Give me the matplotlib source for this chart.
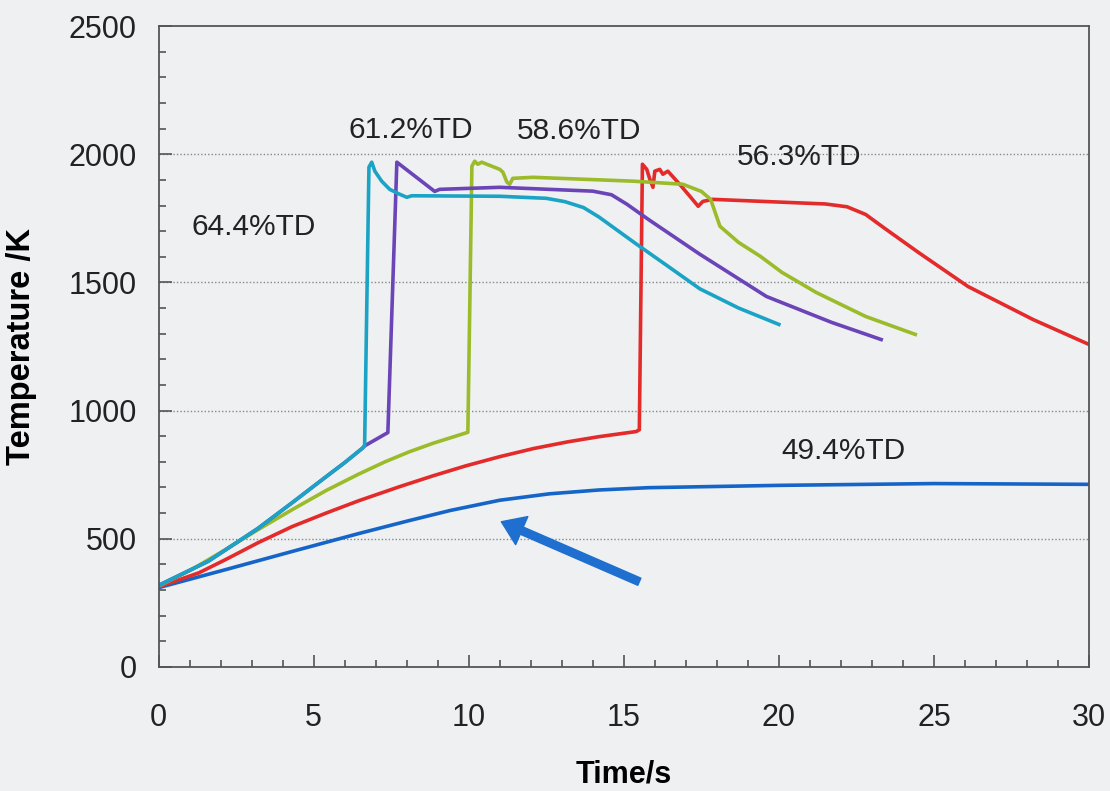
import matplotlib.pyplot as plt
from matplotlib.ticker import MultipleLocator

plt.rcParams["font.family"] = ["Liberation Sans", "DejaVu Sans"]

# data (time in s, temperature in K)
t_644 = [0, 1.6, 3.2, 4.3, 5.4, 6.0, 6.56, 6.64, 6.78, 6.87, 6.97, 7.19, 7.45, 7.77, 8.0, 8.16, 11.0, 12.5, 13.1,
         13.7, 14.2, 15.4, 16.4, 17.45, 18.7, 20.0]
T_644 = [318, 412, 540, 640, 742, 797, 852, 862, 1950, 1969, 1934, 1895, 1863, 1844, 1832, 1838, 1836, 1828, 1815,
         1792, 1755, 1650, 1565, 1475, 1400, 1336]

t_612 = [0, 1.6, 3.2, 4.3, 5.4, 6.0, 6.56, 6.64, 7.39, 7.68, 8.9, 9.06, 11.0, 14.0, 14.6, 15.1, 15.8, 17.45, 19.6,
         21.7, 23.3]
T_612 = [318, 412, 540, 640, 742, 797, 852, 862, 914, 1969, 1855, 1863, 1871, 1856, 1842, 1805, 1745, 1610, 1445,
         1344, 1277]

t_586 = [0, 1.07, 2.15, 3.2, 4.3, 5.4, 6.45, 7.3, 8.06, 8.84, 9.97, 10.1, 10.19, 10.29, 10.42, 10.58, 11.0, 11.1, 11.23,
         11.32, 11.42, 12.07, 15.3, 16.9, 17.5, 17.8, 18.1, 18.7, 19.4, 20.1, 21.2, 22.8, 24.4]
T_586 = [315, 380, 457, 535, 613, 688, 752, 800, 838, 872, 915, 1953, 1973, 1961, 1969, 1961, 1941, 1930, 1891,
         1883, 1906, 1910, 1895, 1883, 1855, 1824, 1719, 1656, 1602, 1539, 1461, 1367, 1297]

t_563 = [0, 1.3, 2.15, 3.2, 4.3, 5.4, 6.45, 7.77, 8.84, 9.9, 11.0, 12.1, 13.2, 14.2, 15.4, 15.5, 15.6, 15.74, 15.84,
         15.94, 16.0, 16.16, 16.26, 16.42, 16.8, 17.13, 17.4, 17.55, 17.87, 21.5, 22.2, 22.8, 23.4, 24.5, 26.1, 28.2, 30.0]
T_563 = [312, 367, 418, 484, 547, 600, 648, 703, 745, 784, 820, 852, 878, 898, 918, 925, 1961, 1941, 1902,
         1871, 1934, 1941, 1922, 1934, 1883, 1836, 1797, 1816, 1824, 1806, 1795, 1765, 1712, 1617, 1484, 1355, 1258]

t_494 = [0, 2.15, 4.3, 6.45, 8.06, 9.4, 11.0, 12.6, 14.2, 15.8, 20, 25, 30]
T_494 = [309, 379, 450, 520, 570, 610, 650, 675, 690, 699, 708, 715, 712]

labels = ["64.4%TD", "61.2%TD", "58.6%TD", "56.3%TD", "49.4%TD"]
label_x = [3.06, 8.13, 13.55, 20.65, 22.08]
label_y = [1715, 2094, 2090, 1988, 844]

bg = "#eef0f1"
fig = plt.figure(figsize=(11.1, 7.91), dpi=100, facecolor=bg)
ax = fig.add_axes([0.143, 0.157, 0.838, 0.810], facecolor=bg)

ax.plot(t_494, T_494, color="#1565c8", lw=2.6)
ax.plot(t_563, T_563, color="#e32b2b", lw=2.6)
ax.plot(t_586, T_586, color="#9bbb2a", lw=2.6)
ax.plot(t_612, T_612, color="#6b45b8", lw=2.6)
ax.plot(t_644, T_644, color="#1ba3c6", lw=2.6)

for lab, x, y in zip(labels, label_x, label_y):
    ax.text(x, y, lab, fontsize=21.5, ha="center", va="center", color="#222222")

# arrow pointing at the 49.4%TD curve
ax.annotate("", xy=(11.05, 566), xytext=(15.5, 332),
            arrowprops=dict(arrowstyle="simple,head_width=1.1,head_length=0.8,tail_width=0.28",
                            color="#1e6fd0", mutation_scale=20, shrinkA=0, shrinkB=0))

ax.set_xlim(0, 30)
ax.set_ylim(0, 2500)
ax.xaxis.set_major_locator(MultipleLocator(5))
ax.xaxis.set_minor_locator(MultipleLocator(1))
ax.yaxis.set_major_locator(MultipleLocator(500))
ax.yaxis.set_minor_locator(MultipleLocator(100))
ax.tick_params(which="both", direction="in", colors="#555555", labelcolor="#222222",
               labelsize=22, width=1.2)
ax.tick_params(which="major", length=9)
ax.tick_params(which="minor", length=5)
ax.tick_params(axis="x", pad=26)
ax.tick_params(axis="y", pad=16)

for y in [500, 1000, 1500, 2000]:
    ax.axhline(y, color="#888888", lw=1, ls=(0, (1, 1.5)), zorder=0)

for s in ax.spines.values():
    s.set_color("#555555")
    s.set_linewidth(1.3)

ax.set_xlabel("Time/s", fontsize=22, fontweight="bold", labelpad=19)
ax.set_ylabel("Temperature /K", fontsize=23.5, fontweight="bold")
ax.yaxis.set_label_coords(-0.131, 0.5)

plt.savefig("out.png", dpi=100, facecolor=bg)
